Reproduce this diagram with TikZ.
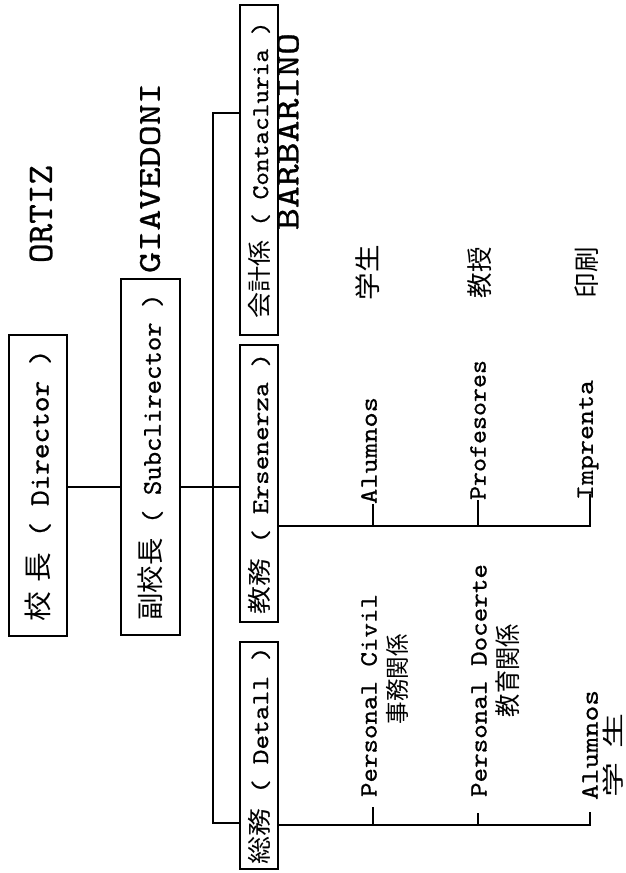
\documentclass[tikz,border=0pt]{standalone}
\usepackage{fontspec}
\usepackage{graphicx}
\newfontfamily\cjk{Noto Sans CJK JP}
\newfontfamily\lmt{lmmono10-regular}[Extension=.otf, FakeBold=0.7]
\newcommand\fitto[2]{\resizebox{#1}{\height}{#2}}
\newcommand\vt[2]{\rotatebox{90}{\fitto{#1}{#2}}}
\begin{document}
\begin{tikzpicture}[x=1pt,y=-1pt,
  box/.style={draw, line width=1.5pt, inner sep=0pt, anchor=center},
  lbl/.style={inner sep=0pt, anchor=center},
  conn/.style={line width=1.1pt},
  fs/.style={font=\lmt\fontsize{#1}{#1}\selectfont}]
\useasboundingbox (0,0) rectangle (626,873);
\fill[white] (0,0) rectangle (626,873);

% boxes
\node[box, fs=28, minimum width=58pt, minimum height=301pt] (b1) at (38,485.5)
  {\vt{272pt}{{\cjk 校\hspace{0.3em}長} ( Director )}};
\node[box, fs=27, minimum width=59pt, minimum height=356pt] (b2) at (150.5,457)
  {\vt{327pt}{{\cjk 副校長} ( Subclirector )}};
\node[box, fs=24, minimum width=38pt, minimum height=330pt] (b3) at (259,170)
  {\vt{297pt}{{\cjk 会計係} ( Contacluria )}};
\node[box, fs=24, minimum width=38pt, minimum height=277pt] (b4) at (259,483.5)
  {\vt{261pt}{{\cjk 教務} ( Ersenerza )}};
\node[box, fs=24, minimum width=38pt, minimum height=227pt] (b5) at (259,755.5)
  {\vt{218pt}{{\cjk 総務} ( Detall )}};

% names
\node[lbl, fs=36] (nOrtiz) at (41,214) {\vt{98pt}{ORTIZ}};
\node[lbl, fs=32] (nGia) at (150,178) {\vt{190pt}{GIAVEDONI}};
\node[lbl, fs=34] (nBar) at (288,131.5) {\vt{197pt}{BARBARINO}};

% upper branch labels
\node[lbl, fs=25] (tAl) at (369,450.5) {\vt{107pt}{Alumnos}};
\node[lbl, fs=25] (tPr) at (478,430) {\vt{140pt}{Profesores}};
\node[lbl, fs=25] (tIm) at (588,440) {\vt{120pt}{Imprenta}};
\node[lbl, fs=26] (jAl) at (368,272.5) {\vt{55pt}{\cjk 学生}};
\node[lbl, fs=26] (jPr) at (480,272.5) {\vt{51pt}{\cjk 教授}};
\node[lbl, fs=26] (jIm) at (587,272.5) {\vt{51pt}{\cjk 印刷}};

% lower branch labels
\node[lbl, fs=25] (tPc) at (369,695.5) {\vt{203pt}{Personal Civil}};
\node[lbl, fs=24] (jPc) at (397,679) {\vt{90pt}{\cjk 事務関係}};
\node[lbl, fs=25] (tPd) at (479,680.5) {\vt{233pt}{Personal Docerte}};
\node[lbl, fs=26] (jPd) at (508,670.5) {\vt{93pt}{\cjk 教育関係}};
\node[lbl, fs=25] (tAl2) at (590,745) {\vt{110pt}{Alumnos}};
\node[lbl, fs=22] (jAl2) at (613,755) {\vt{84pt}{\cjk 学\hspace{0.4em}生}};

% coordinates
\coordinate (spine) at (213,487);
\coordinate (ue) at (590,526);
\coordinate (ut1) at (373,504);
\coordinate (ut2) at (478,500);
\coordinate (ut3) at (590,494);
\coordinate (le) at (590,825);
\coordinate (lt1) at (373,807);
\coordinate (lt2) at (478,813);
\coordinate (lt3) at (590,812);

% connectors
\draw[conn] (b1.east |- spine) -- (b2.west |- spine);
\draw[conn] (b2.east |- spine) -- (b4.west |- spine);
\draw[conn] (b3.west |- 0,113) -| (spine) |- (b5.west |- 0,823);
\draw[conn] (b4.east |- ue) -- (ue) -- (ut3);
\draw[conn] (ut1) -- (ut1 |- ue);
\draw[conn] (ut2) -- (ut2 |- ue);
\draw[conn] (b5.east |- le) -- (le) -- (lt3);
\draw[conn] (lt1) -- (lt1 |- le);
\draw[conn] (lt2) -- (lt2 |- le);
\end{tikzpicture}
\end{document}
